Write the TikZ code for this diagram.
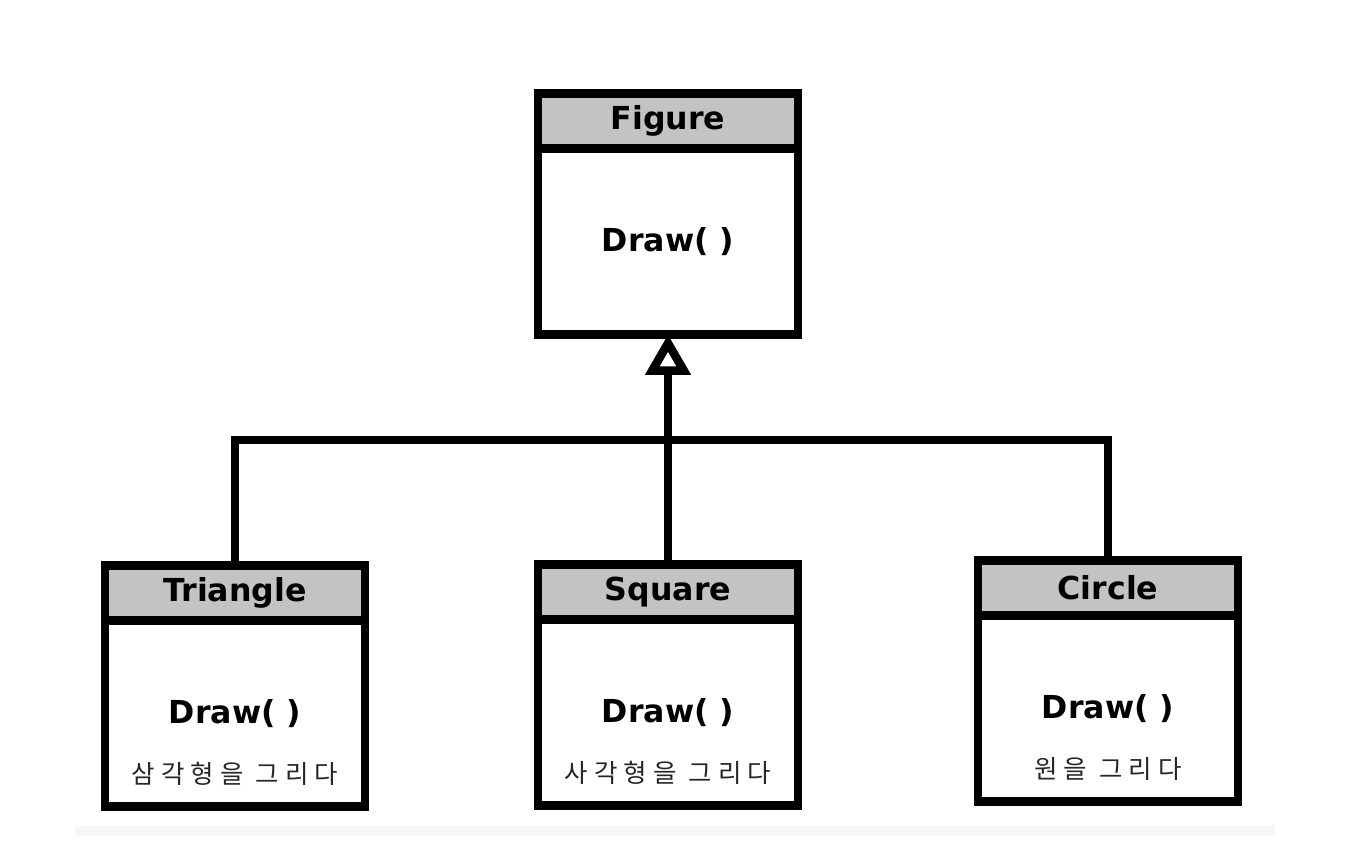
\documentclass[tikz,border=0pt]{standalone}
\usepackage{fontspec}
\setmainfont{DejaVu Sans}
\newfontfamily\krfont{Noto Sans CJK KR}[LetterSpace=24]
\usetikzlibrary{arrows.meta,positioning,calc}
\definecolor{Headgray}{RGB}{195,195,195}
\definecolor{Stripgray}{RGB}{246,246,246}

\begin{document}
\begin{tikzpicture}
[x=0.02cm,y=-0.02cm,
every node/.style={outer sep=0pt},
head/.style={draw,line width=0.17cm,fill=Headgray,minimum width=5.2cm,
minimum height=1.1cm,inner sep=0pt,font=\fontsize{18}{22}\selectfont\bfseries},
body/.style={draw,line width=0.17cm,fill=white,minimum width=5.2cm,
minimum height=3.72cm,inner sep=0pt,below=0pt of #1,
font=\fontsize{18}{22}\selectfont\bfseries},
note/.style={inner sep=0pt,text=black!85,font=\fontsize{14.5}{16}\krfont},
link/.style={line width=0.17cm,line join=miter},
inherit/.style={link,-{Triangle[open,length=23pt,width=25pt]}}]

\useasboundingbox (0,0) rectangle (1362,848);
\fill[Stripgray] (75,826) rectangle (1275,836);

%% base class
\node[head] (fig-h) at (668,121) {Figure};
\node[body=fig-h] (fig-b) {Draw( )};

%% derived classes
\node[head] (tri-h) at (235,593) {Triangle};
\node[body=tri-h] (tri-b) {Draw( )};
\node[note,above=0.42cm of tri-b.south] (tri-n) {삼각형을 그리다};

\node[head] (sq-h) at (668,592) {Square};
\node[body=sq-h] (sq-b) {Draw( )};
\node[note,above=0.42cm of sq-b.south] (sq-n) {사각형을 그리다};

\node[head] (circ-h) at (1108,588) {Circle};
\node[body=circ-h] (circ-b) {Draw( )};
\node[note,above=0.42cm of circ-b.south] (circ-n) {원을 그리다};

%% inheritance
\coordinate (bus) at (668,440);
\draw[link] (tri-h.north) |- (bus) -| (circ-h.north);
\draw[inherit] (sq-h.north) -- (fig-b.south);

\end{tikzpicture}
\end{document}
